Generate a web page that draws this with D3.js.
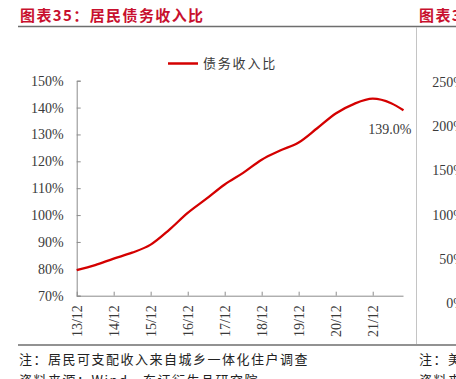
<!DOCTYPE html>
<html><head><meta charset="utf-8">
<script src="https://cdn.jsdelivr.net/npm/d3@7"></script>
<style>
html,body{margin:0;padding:0;background:#fff;overflow:hidden;}
svg{display:block;}
.cjk{font-family:"Noto Sans CJK SC","Noto Sans",sans-serif;}
.num{font-family:"Liberation Serif","Times New Roman",serif;}
</style></head>
<body>
<script>
const dates = ["2013-12","2014-06","2014-12","2015-06","2015-12","2016-06","2016-12","2017-06","2017-12","2018-06","2018-12","2019-06","2019-12","2020-06","2020-12","2021-06","2021-12","2022-06","2022-10"];
const debtIncome = [79.5,81.4,83.8,86.0,89.0,94.5,100.8,106.0,111.4,115.7,120.6,124.0,127.0,132.3,137.8,141.4,143.3,141.6,139.0];
const xTickLabels = ["13/12","14/12","15/12","16/12","17/12","18/12","19/12","20/12","21/12"];
const yTicks = [70,80,90,100,110,120,130,140,150];
const rightTicks = [0,50,100,150,200,250];
const seriesName = "债务收入比";
const title = "图表35：居民债务收入比";
const note = "注：居民可支配收入来自城乡一体化住户调查";
const source = "资料来源：Wind，东证衍生品研究院";

const W = 456, H = 379;
const red = "#d40000", axisCol = "#8c8c8c", txt = "#3a3a3a";
const parse = d3.timeParse("%Y-%m");
const data = dates.map((d,i)=>({date:parse(d), v:debtIncome[i]}));

const svg = d3.select("body").append("svg").attr("width",W).attr("height",H);

// frame lines
svg.append("line").attr("x1",18).attr("x2",W).attr("y1",26.5).attr("y2",26.5).attr("stroke","#6e6e6e").attr("stroke-width",1.5);
svg.append("line").attr("x1",18).attr("x2",W).attr("y1",345).attr("y2",345).attr("stroke","#6e6e6e").attr("stroke-width",1.5);
svg.append("line").attr("x1",416.5).attr("x2",416.5).attr("y1",27).attr("y2",344).attr("stroke","#c4c4c4").attr("stroke-width",1);

// title
svg.append("text").attr("class","cjk").attr("x",20).attr("y",21).attr("fill","#c8102e")
  .attr("font-size",15).attr("font-weight","bold").attr("letter-spacing",1.4).text(title);
svg.append("text").attr("class","cjk").attr("x",419).attr("y",21).attr("fill","#c8102e")
  .attr("font-size",15).attr("font-weight","bold").attr("letter-spacing",1.4).text("图表36：");

// scales
const x = d3.scaleTime().domain([parse("2013-12"), parse("2022-10")]).range([76.7, 403.5]);
const y = d3.scaleLinear().domain([70,150]).range([295.7, 80.7]);

// y axis
const yAxis = svg.append("g").attr("transform","translate(76.7,0)")
  .call(d3.axisLeft(y).tickValues(yTicks).tickSize(-4).tickPadding(13).tickFormat(d=>d+"%"));
yAxis.selectAll("path,line").attr("stroke",axisCol);
yAxis.selectAll("text").attr("class","num").attr("font-size",14).attr("fill",txt);

// x axis
const xTickDates = xTickLabels.map(s=>parse("20"+s.slice(0,2)+"-"+s.slice(3)));
const xAxis = svg.append("g").attr("transform","translate(0,295.7)")
  .call(d3.axisBottom(x).tickValues(xTickDates).tickSize(-4).tickFormat((d,i)=>xTickLabels[i]));
xAxis.select(".domain").attr("d","M76.7,0.5H403.5");
xAxis.selectAll("path,line").attr("stroke",axisCol);
xAxis.selectAll("text").attr("class","num").attr("font-size",14).attr("fill",txt)
  .attr("transform","rotate(-90)").attr("text-anchor","end").attr("x",-9.5).attr("y",0).attr("dy","0.33em");

// line
const line = d3.line().x(d=>x(d.date)).y(d=>y(d.v)).curve(d3.curveMonotoneX);
svg.append("path").datum(data).attr("d",line).attr("fill","none").attr("stroke",red).attr("stroke-width",2.3);

// end label
const last = data[data.length-1];
svg.append("text").attr("class","num").attr("x",x(last.date)+8).attr("y",y(last.v)+24)
  .attr("text-anchor","end").attr("font-size",14).attr("fill",txt).text(last.v.toFixed(1)+"%");

// legend
svg.append("line").attr("x1",168).attr("x2",198).attr("y1",63.5).attr("y2",63.5).attr("stroke",red).attr("stroke-width",2.5);
svg.append("text").attr("class","cjk").attr("x",203).attr("y",68).attr("font-size",13).attr("letter-spacing",1.8)
  .attr("fill",txt).text(seriesName);

// right (neighbouring chart) tick labels
const yR = d3.scaleLinear().domain([0,250]).range([303.3, 81.7]);
svg.append("g").selectAll("text").data(rightTicks).join("text").attr("class","num")
  .attr("x",465).attr("y",d=>yR(d)).attr("dy","0.35em").attr("text-anchor","end")
  .attr("font-size",14).attr("fill",txt).text(d=>d+"%");

// footnotes
svg.append("text").attr("class","cjk").attr("x",19).attr("y",364).attr("font-size",13).attr("letter-spacing",1.5).attr("fill","#222").text(note);
svg.append("text").attr("class","cjk").attr("x",19).attr("y",385).attr("font-size",13).attr("letter-spacing",1.5).attr("fill","#222").text(source);
svg.append("text").attr("class","cjk").attr("x",419).attr("y",364).attr("font-size",13).attr("letter-spacing",1.5).attr("fill","#222").text("注：美国");
svg.append("text").attr("class","cjk").attr("x",419).attr("y",385).attr("font-size",13).attr("letter-spacing",1.5).attr("fill","#222").text("资料来源");
</script>
</body></html>
